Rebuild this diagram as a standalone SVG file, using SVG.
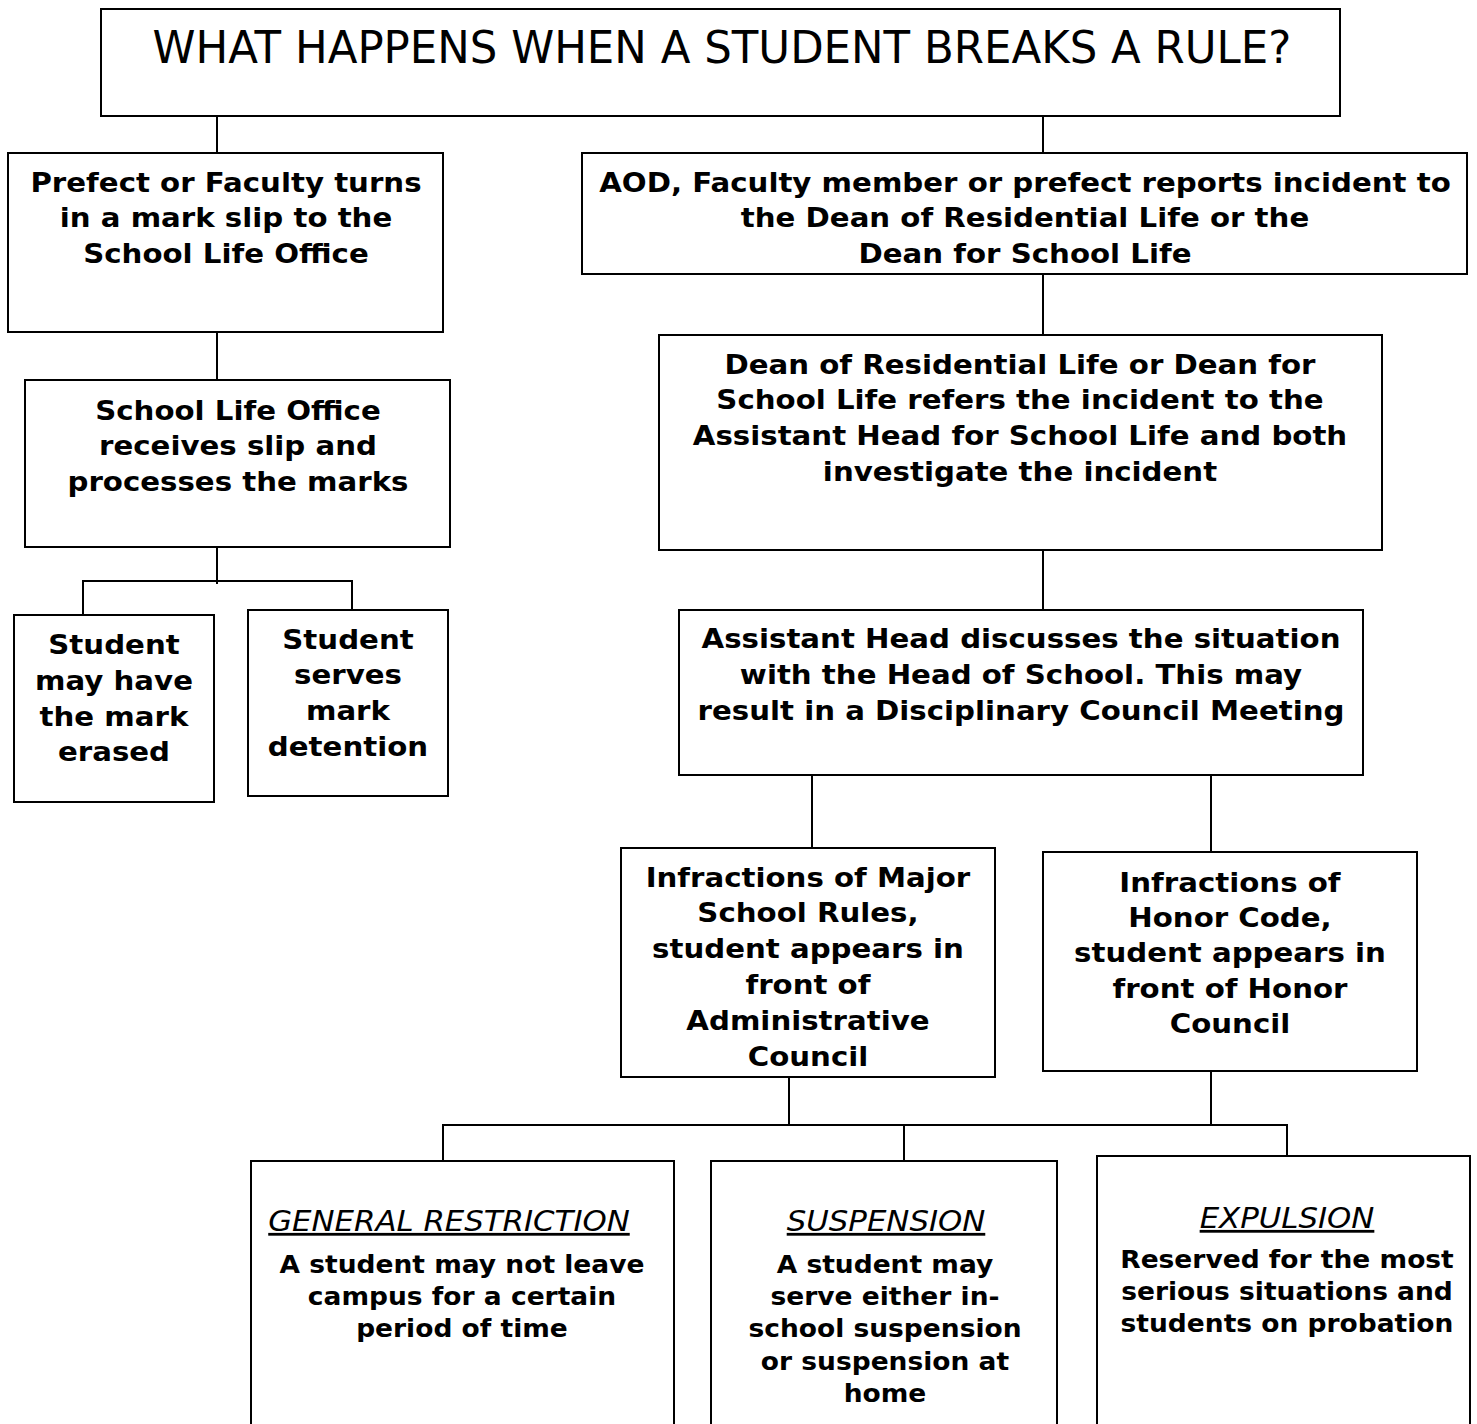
<svg xmlns="http://www.w3.org/2000/svg" width="1477" height="1424" viewBox="0 0 1477 1424">
  <style>
    .box { fill: #fff; stroke: #000; stroke-width: 2; }
    .wire { fill: none; stroke: #000; stroke-width: 2; }
    text { font-family: "DejaVu Sans", Verdana, sans-serif; fill: #000; text-anchor: middle;
           transform-box: fill-box; transform-origin: center; }
    .b { font-weight: bold; font-size: 26px; transform: scaleX(1.125); }
    .s { font-weight: bold; font-size: 25px; transform: scaleX(1.06); }
    .h { font-style: italic; font-size: 28px; text-decoration: underline; transform: scaleX(1.1); }
    .t { font-size: 45px; transform: scaleX(0.966); }
  </style>
  <rect width="1477" height="1424" fill="#fff"/>

  <g id="connectors">
    <line class="wire" x1="217" y1="116" x2="217" y2="153"/>
    <line class="wire" x1="1043" y1="116" x2="1043" y2="153"/>
    <line class="wire" x1="217" y1="332" x2="217" y2="380"/>
    <line class="wire" x1="217" y1="547" x2="217" y2="584"/>
    <polyline class="wire" points="83,615 83,581 352,581 352,610"/>
    <line class="wire" x1="1043" y1="274" x2="1043" y2="335"/>
    <line class="wire" x1="1043" y1="550" x2="1043" y2="610"/>
    <line class="wire" x1="812" y1="775" x2="812" y2="848"/>
    <line class="wire" x1="1211" y1="775" x2="1211" y2="852"/>
    <line class="wire" x1="789" y1="1077" x2="789" y2="1125"/>
    <line class="wire" x1="1211" y1="1071" x2="1211" y2="1125"/>
    <polyline class="wire" points="443,1161 443,1125 1287,1125 1287,1156"/>
    <line class="wire" x1="904" y1="1125" x2="904" y2="1161"/>
  </g>

  <g id="title">
    <rect class="box" x="101" y="9" width="1239" height="107"/>
    <text class="t" x="722" y="63">WHAT HAPPENS WHEN A STUDENT BREAKS A RULE?</text>
  </g>

  <g id="mark-slip">
    <rect class="box" x="8" y="153" width="435" height="179"/>
    <text class="b" x="226" y="192">Prefect or Faculty turns</text>
    <text class="b" x="226" y="227.5">in a mark slip to the</text>
    <text class="b" x="226" y="263">School Life Office</text>
  </g>

  <g id="process-marks">
    <rect class="box" x="25" y="380" width="425" height="167"/>
    <text class="b" x="238" y="420">School Life Office</text>
    <text class="b" x="238" y="455.5">receives slip and</text>
    <text class="b" x="238" y="491">processes the marks</text>
  </g>

  <g id="mark-erased">
    <rect class="box" x="14" y="615" width="200" height="187"/>
    <text class="b" x="114" y="654">Student</text>
    <text class="b" x="114" y="690">may have</text>
    <text class="b" x="114" y="726">the mark</text>
    <text class="b" x="114" y="761">erased</text>
  </g>

  <g id="mark-detention">
    <rect class="box" x="248" y="610" width="200" height="186"/>
    <text class="b" x="348" y="649">Student</text>
    <text class="b" x="348" y="684.5">serves</text>
    <text class="b" x="348" y="720">mark</text>
    <text class="b" x="348" y="756">detention</text>
  </g>

  <g id="report-incident">
    <rect class="box" x="582" y="153" width="885" height="121"/>
    <text class="b" x="1025" y="192">AOD, Faculty member or prefect reports incident to</text>
    <text class="b" x="1025" y="227.5">the Dean of Residential Life or the</text>
    <text class="b" x="1025" y="263">Dean for School Life</text>
  </g>

  <g id="dean-refers">
    <rect class="box" x="659" y="335" width="723" height="215"/>
    <text class="b" x="1020" y="374">Dean of Residential Life or Dean for</text>
    <text class="b" x="1020" y="409.5">School Life refers the incident to the</text>
    <text class="b" x="1020" y="445">Assistant Head for School Life and both</text>
    <text class="b" x="1020" y="481">investigate the incident</text>
  </g>

  <g id="assistant-head">
    <rect class="box" x="679" y="610" width="684" height="165"/>
    <text class="b" x="1021" y="648">Assistant Head discusses the situation</text>
    <text class="b" x="1021" y="684">with the Head of School. This may</text>
    <text class="b" x="1021" y="720">result in a Disciplinary Council Meeting</text>
  </g>

  <g id="major-rules">
    <rect class="box" x="621" y="848" width="374" height="229"/>
    <text class="b" x="808" y="887">Infractions of Major</text>
    <text class="b" x="808" y="922.5">School Rules,</text>
    <text class="b" x="808" y="958.5">student appears in</text>
    <text class="b" x="808" y="994.5">front of</text>
    <text class="b" x="808" y="1030.5">Administrative</text>
    <text class="b" x="808" y="1066">Council</text>
  </g>

  <g id="honor-code">
    <rect class="box" x="1043" y="852" width="374" height="219"/>
    <text class="b" x="1230" y="892">Infractions of</text>
    <text class="b" x="1230" y="927">Honor Code,</text>
    <text class="b" x="1230" y="962.5">student appears in</text>
    <text class="b" x="1230" y="998">front of Honor</text>
    <text class="b" x="1230" y="1033">Council</text>
  </g>

  <g id="general-restriction">
    <rect class="box" x="251" y="1161" width="423" height="280"/>
    <text class="h" x="449" y="1231">GENERAL RESTRICTION</text>
    <text class="s" x="462" y="1273">A student may not leave</text>
    <text class="s" x="462" y="1305">campus for a certain</text>
    <text class="s" x="462" y="1337">period of time</text>
  </g>

  <g id="suspension">
    <rect class="box" x="711" y="1161" width="346" height="280"/>
    <text class="h" x="886" y="1231">SUSPENSION</text>
    <text class="s" x="885" y="1273">A student may</text>
    <text class="s" x="885" y="1305">serve either in-</text>
    <text class="s" x="885" y="1337.5">school suspension</text>
    <text class="s" x="885" y="1370">or suspension at</text>
    <text class="s" x="885" y="1402">home</text>
  </g>

  <g id="expulsion">
    <rect class="box" x="1097" y="1156" width="373" height="285"/>
    <text class="h" x="1287" y="1228">EXPULSION</text>
    <text class="s" x="1287" y="1268">Reserved for the most</text>
    <text class="s" x="1287" y="1300">serious situations and</text>
    <text class="s" x="1287" y="1332">students on probation</text>
  </g>
</svg>
